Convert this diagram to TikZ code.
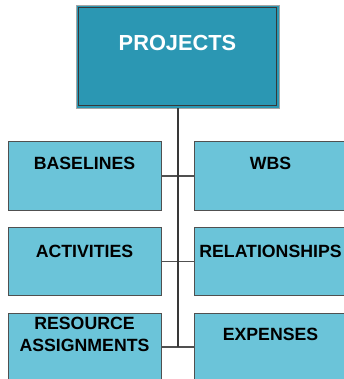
\documentclass[tikz,border=0pt]{standalone}
\usepackage{fontspec}
\setmainfont{Liberation Sans}
\usetikzlibrary{positioning,calc}
\definecolor{topteal}{HTML}{2B97B3}
\definecolor{boxblue}{HTML}{6BC4D9}
\definecolor{edgegray}{HTML}{505050}
\definecolor{trunkgray}{HTML}{383838}

\begin{document}
\begin{tikzpicture}[x=1pt, y=-1pt, %
        topbox/.style={draw=gray!70, fill=topteal, line width=0.8pt,
          minimum width=203pt, minimum height=103pt, inner sep=0pt},
        itembox/.style={draw=edgegray, fill=boxblue, line width=1pt,
          minimum width=153pt, minimum height=68pt, inner sep=0pt},
        itemtext/.style={font=\bfseries\fontsize{17.7}{22}\selectfont,
          align=center, inner sep=0pt},
        link/.style={draw=edgegray, line width=1.2pt}
        ]
        \useasboundingbox (0,0) rectangle (344,379);
        \clip (0,0) rectangle (344,379);
        % top box
        \node[topbox] (proj) at (177.5,56.5) {};
        \draw[trunkgray, line width=1.5pt] ($(proj.north west)+(3,3)$) rectangle ($(proj.south east)+(-3,-3)$);
        \node[font=\bfseries\fontsize{21.8}{26}\selectfont, text=white] (projt) at (177.5,43) {PROJECTS};
        % item boxes
        \node[itembox] (base) at (84.5,176) {};
        \node[itembox] (wbs)  at (270.5,176) {};
        \node[itembox] (act)  at (84.5,261.5) {};
        \node[itembox] (rel)  at (270.5,261.5) {};
        \node[itembox] (res)  at (84.5,347) {};
        \node[itembox] (exp)  at (270.5,347) {};
        \node[itemtext] (baset) at ($(base.north)+(0,22)$) {BASELINES};
        \node[itemtext] (wbst)  at ($(wbs.north)+(0,22)$) {WBS};
        \node[itemtext] (actt)  at ($(act.north)+(0,24)$) {ACTIVITIES};
        \node[itemtext] (relt)  at ($(rel.north)+(0,24)$) {RELATIONSHIPS};
        \node[itemtext] (rest)  at ($(res.north)+(0,22)$) {RESOURCE\\ASSIGNMENTS};
        \node[itemtext] (expt)  at ($(exp.north)+(0,22)$) {EXPENSES};
        % connectors
        \coordinate (trunkend) at (178,347);
        \draw[link] (base.east) -- (wbs.west);
        \draw[link] (act.east) -- (rel.west);
        \draw[link] (res.east) -- (exp.west);
        \draw[trunkgray, line width=2pt] (proj.south -| trunkend) -- (trunkend);
      \end{tikzpicture}
\end{document}
